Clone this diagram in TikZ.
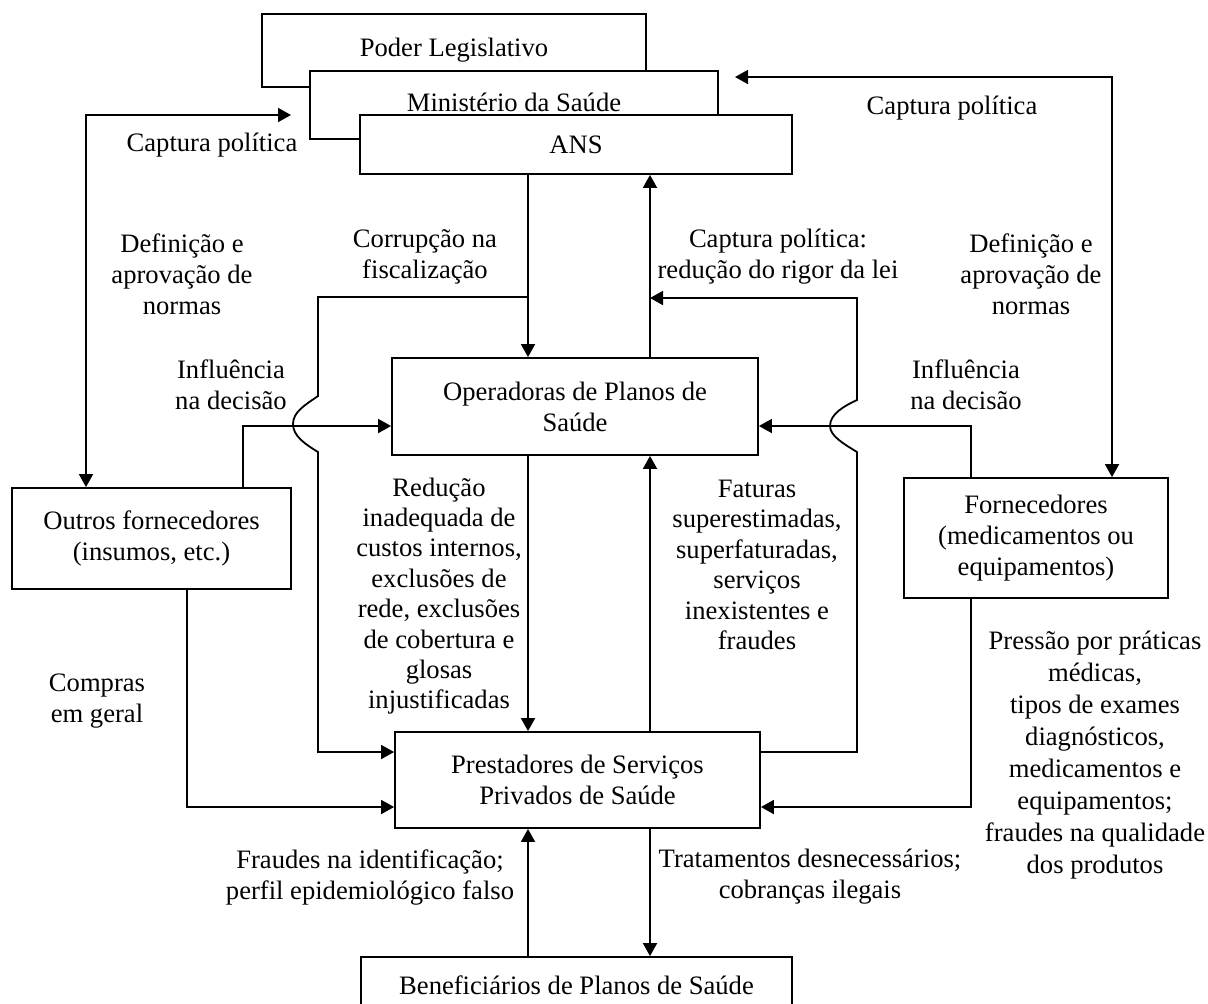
\documentclass[tikz,border=0pt]{standalone}
\usepackage{fontspec}
\setmainfont{Liberation Serif}
\usetikzlibrary{arrows.meta}

\begin{document}
\begin{tikzpicture}[
  x=0.5pt, y=-0.5pt,
  line width=0.9pt,
  font=\fontsize{13.3}{15.5}\selectfont,
  box/.style={draw,fill=white,align=center,inner sep=0pt},
  lbl/.style={align=center,inner sep=0pt},
  arr/.style={-{Triangle[length=6.5pt,width=7pt]}},
  darr/.style={{Triangle[length=6.5pt,width=7pt]}-{Triangle[length=6.5pt,width=7pt]}}
]
  \useasboundingbox (0,0) rectangle (1208,1003);
  % columns and free ends
  \coordinate (cl) at (528,0);
  \coordinate (cr) at (650,0);
  \coordinate (xa) at (86,0);
  \coordinate (xb) at (1112,0);
  \coordinate (xc) at (243,0);
  \coordinate (xd) at (971,0);
  \coordinate (xe) at (187,0);
  \coordinate (capl) at (291,115);
  \coordinate (capr) at (735,77);
  \coordinate (jl) at (528,297);
  \coordinate (jr) at (650,298);
  % boxes
  \node[box,minimum width=192pt,minimum height=36.5pt] (leg) at (454,50.5) {\raisebox{2.75pt}{Poder Legislativo}};
  \node[box,minimum width=204pt,minimum height=34pt] (ms) at (514,105) {\raisebox{2.5pt}{Ministério da Saúde}};
  \node[box,minimum width=216pt,minimum height=29.5pt] (ans) at (576,144.5) {ANS};
  \node[box,minimum width=183pt,minimum height=48.5pt] (op) at (575,406.5) {Operadoras de Planos de\\Saúde};
  \node[box,minimum width=139.5pt,minimum height=50.5pt] (outros) at (151.5,538.5) {Outros fornecedores\\(insumos, etc.)};
  \node[box,minimum width=132pt,minimum height=60pt] (forn) at (1036,538) {Fornecedores\\(medicamentos ou\\equipamentos)};
  \node[box,minimum width=182.5pt,minimum height=48pt] (prest) at (577.5,780) {Prestadores de Serviços\\Privados de Saúde};
  \node[box,minimum width=215.5pt,minimum height=28pt] (benef) at (576.5,985) {Beneficiários de Planos de Saúde};
  % connectors
  \draw[darr] (outros.north -| xa) |- (capl);
  \draw[darr] (capr) -| (forn.north -| xb);
  \draw[arr] (ans.south -| cl) -- (op.north -| cl);
  \draw[arr] (op.north -| cr) -- (ans.south -| cr);
  \draw[arr] (jl) -- (318,297) -- (318,396)
    .. controls (305,405) and (293,412) .. (293,424)
    .. controls (293,436) and (305,444) .. (318,452)
    -- (318,752) -- ([yshift=14pt]prest.west);
  \draw[arr] ([yshift=14pt]prest.east) -- (857,752) -- (857,452)
    .. controls (844,444) and (830,436) .. (830,426)
    .. controls (830,414) and (844,406) .. (857,400)
    -- (857,298) -- (jr);
  \draw[arr] (outros.north -| xc) |- ([yshift=-9.75pt]op.west);
  \draw[arr] (forn.north -| xd) |- ([yshift=-9.75pt]op.east);
  \draw[arr] (op.south -| cl) -- (prest.north -| cl);
  \draw[arr] (prest.north -| cr) -- (op.south -| cr);
  \draw[arr] (outros.south -| xe) |- ([yshift=-13.5pt]prest.west);
  \draw[arr] (forn.south -| xd) |- ([yshift=-13.5pt]prest.east);
  \draw[arr] (benef.north -| cl) -- (prest.south -| cl);
  \draw[arr] (prest.south -| cr) -- (benef.north -| cr);
  % labels
  \node[lbl] (tcapl) at (212,145) {Captura política};
  \node[lbl] (tcapr) at (952,108) {Captura política};
  \node[lbl] (tdefl) at (182,274) {Definição e\\aprovação de\\normas};
  \node[lbl] (tdefr) at (1031,274) {Definição e\\aprovação de\\normas};
  \node[lbl] (tcorr) at (425,257) {Corrupção na\\fiscalização};
  \node[lbl] (tred) at (778,257) {Captura política:\\redução do rigor da lei};
  \node[lbl] (tinfl) at (231,385) {Influência\\na decisão};
  \node[lbl] (tinfr) at (966,385) {Influência\\na decisão};
  \node[lbl,font=\fontsize{13.3}{15.2}\selectfont] (treduc) at (439,596) {Redução\\inadequada de\\custos internos,\\exclusões de\\rede, exclusões\\de cobertura e\\glosas\\injustificadas};
  \node[lbl,font=\fontsize{13.3}{15.2}\selectfont] (tfat) at (757,565) {Faturas\\superestimadas,\\superfaturadas,\\serviços\\inexistentes e\\fraudes};
  \node[lbl] (tcomp) at (97,701) {Compras\\em geral};
  \node[lbl,font=\fontsize{13.3}{16}\selectfont] (tpres) at (1095,755) {Pressão por práticas\\médicas,\\tipos de exames\\diagnósticos,\\medicamentos e\\equipamentos;\\fraudes na qualidade\\dos produtos};
  \node[lbl] (tfrau) at (370,877) {Fraudes na identificação;\\perfil epidemiológico falso};
  \node[lbl] (ttrat) at (810,877) {Tratamentos desnecessários;\\cobranças ilegais};
\end{tikzpicture}
\end{document}
